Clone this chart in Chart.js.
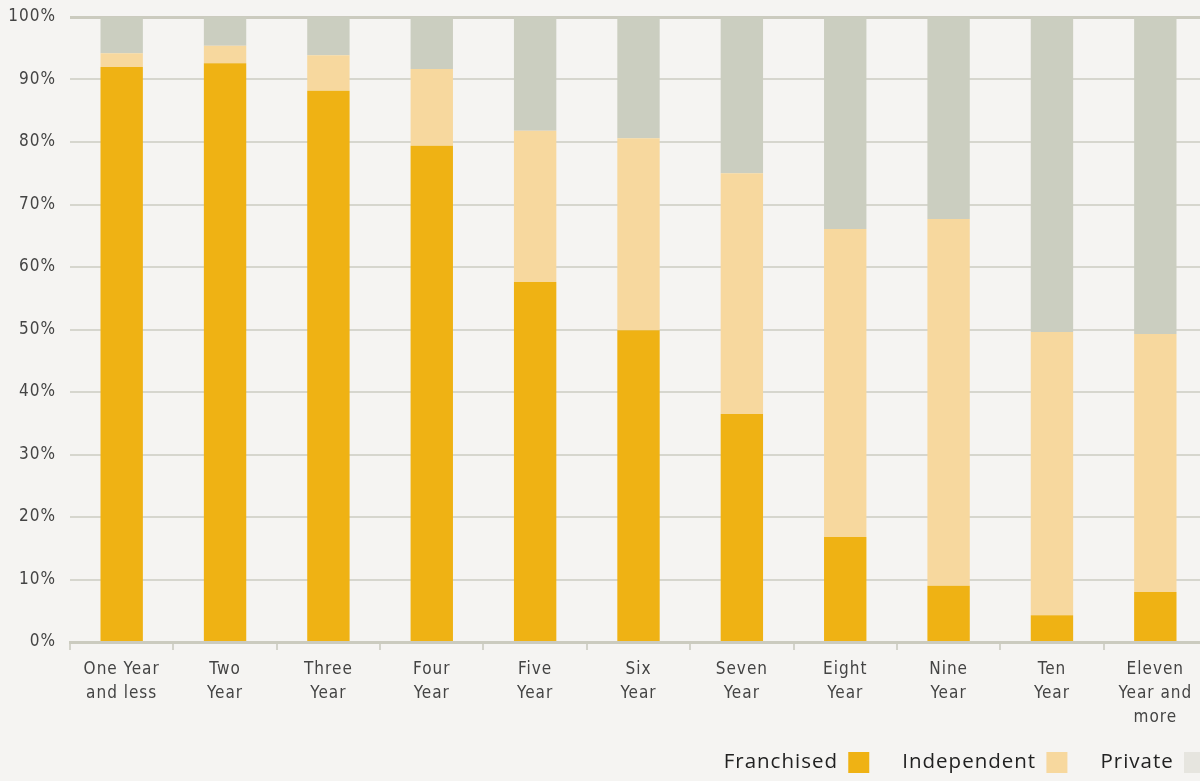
<!DOCTYPE html>
<html>
<head>
<meta charset="utf-8">
<script src="https://cdn.jsdelivr.net/npm/chart.js@4/dist/chart.umd.min.js"></script>
<style>
  html, body { margin: 0; padding: 0; background: #F5F4F2; overflow: hidden; }
  #wrap { position: relative; width: 1238px; height: 781px; }
</style>
</head>
<body>
<div id="wrap"><canvas id="c"></canvas></div>
<script>
const categories = [
  ["One Year", "and less"], ["Two", "Year"], ["Three", "Year"], ["Four", "Year"],
  ["Five", "Year"], ["Six", "Year"], ["Seven", "Year"], ["Eight", "Year"],
  ["Nine", "Year"], ["Ten", "Year"], ["Eleven", "Year and", "more"]
];
const franchised  = [92.0, 92.6, 88.2, 79.4, 57.6, 49.9, 36.5, 16.8, 9.0, 4.3, 8.0];
const independent = [2.2, 2.8, 5.7, 12.3, 24.2, 30.7, 38.5, 49.3, 58.7, 45.3, 41.3];
const privateVals = [5.8, 4.6, 6.1, 8.3, 18.2, 19.4, 25.0, 33.9, 32.3, 50.4, 50.7];
const seriesNames = ["Franchised", "Independent", "Private"];
const colors = ["#EFB214", "#F7D89E", "#CBCEC0"];
const legendColors = ["#EFB214", "#F7D89E", "#E6E5DF"];

const tickFont = { family: "'DejaVu Sans Condensed', 'DejaVu Sans', sans-serif", size: 17, lineHeight: 1.4 };

const spacingPlugin = {
  id: 'spacing',
  beforeInit(chart) { chart.ctx.letterSpacing = '1px'; },
  beforeUpdate(chart) { chart.ctx.letterSpacing = '1px'; },
  beforeDraw(chart) { chart.ctx.letterSpacing = '1px'; }
};

new Chart(document.getElementById('c'), {
  type: 'bar',
  plugins: [spacingPlugin],
  data: {
    labels: categories,
    datasets: [
      { label: seriesNames[0], data: franchised, backgroundColor: colors[0] },
      { label: seriesNames[1], data: independent, backgroundColor: colors[1] },
      { label: seriesNames[2], data: privateVals, backgroundColor: colors[2] }
    ]
  },
  options: {
    responsive: true,
    maintainAspectRatio: false,
    animation: false,
    datasets: { bar: { categoryPercentage: 1, barPercentage: 0.41 } },
    layout: { padding: { top: 17, bottom: -2, left: 0, right: 0 } },
    plugins: {
      tooltip: { enabled: false },
      legend: {
        position: 'bottom',
        align: 'start',
        rtl: true,
        reverse: true,
        labels: {
          font: { family: "'Open Sans', sans-serif", size: 20.5 },
          color: "#222",
          boxWidth: 21,
          boxHeight: 21,
          padding: 33,
          generateLabels(chart) {
            const items = Chart.defaults.plugins.legend.labels.generateLabels(chart);
            items.forEach(it => { it.fillStyle = legendColors[it.datasetIndex]; it.strokeStyle = legendColors[it.datasetIndex]; it.lineWidth = 0; });
            return items;
          }
        }
      }
    },
    scales: {
      x: {
        stacked: true,
        grid: { display: true, drawOnChartArea: false, drawTicks: true, tickLength: 8, color: "#D3D3CA", lineWidth: 2 },
        border: { display: true, color: "#CBCBBF", width: 3 },
        ticks: { font: tickFont, color: "#444", padding: 8, maxRotation: 0, autoSkip: false },
        afterFit: (s) => { s.height = 77; s._computeLabelArea = () => undefined; }
      },
      y: {
        stacked: true,
        min: 0, max: 100,
        grid: {
          color: (ctx) => ctx.tick && ctx.tick.value === 100 ? "#CBCBBF" : "#D6D6CE",
          lineWidth: (ctx) => ctx.tick && ctx.tick.value === 100 ? 3 : 2,
          drawTicks: false
        },
        border: { display: false },
        ticks: { stepSize: 10, font: { family: tickFont.family, size: 17 }, color: "#444", padding: 14, callback: (v) => v + '%' },
        afterFit: (s) => { s.width = 70; s.paddingTop = 0; s.paddingBottom = 0; }
      },
      yRightSpacer: {
        position: 'right',
        display: true,
        grid: { display: false, drawTicks: false },
        border: { display: false },
        ticks: { display: false },
        afterFit: (s) => { s.width = 31; s.paddingTop = 0; s.paddingBottom = 0; }
      }
    }
  }
});
</script>
</body>
</html>
